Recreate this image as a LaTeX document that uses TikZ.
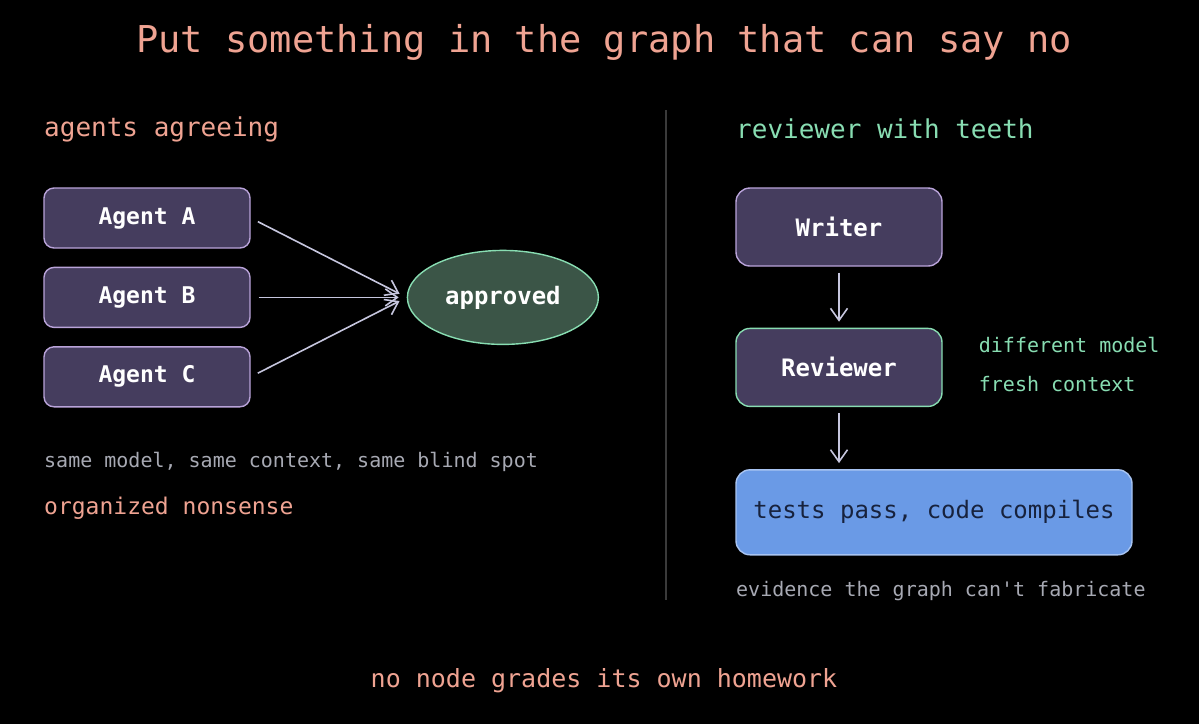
\documentclass[tikz,border=0pt]{standalone}
\usepackage{fontspec}
\setmonofont{DejaVu Sans Mono}
\usepackage{tikz}
\usetikzlibrary{arrows.meta,positioning,shapes.geometric}
\definecolor{salmon}{HTML}{EFA392}
\definecolor{mint}{HTML}{88DDB2}
\definecolor{boxfill}{HTML}{453D5E}
\definecolor{boxline}{HTML}{B9A3D9}
\definecolor{okfill}{HTML}{3B5547}
\definecolor{testfill}{HTML}{6A9AE6}
\definecolor{testline}{HTML}{A8C4F2}
\definecolor{testtext}{HTML}{17223D}
\definecolor{mute}{HTML}{A7A9B3}
\definecolor{wire}{HTML}{C6C6DE}
\definecolor{divider}{HTML}{3A3A3A}

\begin{document}
\begin{tikzpicture}[x=1pt,y=-1pt,node distance=18pt and 4pt,every node/.style={font=\ttfamily,inner sep=0pt},agent/.style={draw=boxline,line width=1.4pt,fill=boxfill,rounded corners=10pt,minimum width=206pt,minimum height=60pt,text=white,font=\ttfamily\bfseries\fontsize{23}{27}\selectfont},stage/.style={agent,rounded corners=14pt,minimum height=78pt,font=\ttfamily\bfseries\fontsize{24}{28}\selectfont},verdict/.style={ellipse,draw=mint,line width=1.4pt,fill=okfill,minimum width=191pt,minimum height=94pt,text=white,font=\ttfamily\bfseries\fontsize{24}{28}\selectfont},proof/.style={draw=testline,line width=1.4pt,fill=testfill,rounded corners=14pt,minimum width=396pt,minimum height=85pt,text=testtext,font=\ttfamily\fontsize{24}{28}\selectfont},heading/.style={anchor=west,font=\ttfamily\fontsize{26}{30}\selectfont},note/.style={anchor=west,text=mute,font=\ttfamily\fontsize{20}{24}\selectfont},arrow/.style={-{Straight Barb[length=12pt,width=17pt]},line width=1.6pt,wire}]
\useasboundingbox[fill=black] (0,0) rectangle (1199,724);
\node[text=salmon,font=\ttfamily\fontsize{37}{42}\selectfont] (title) at (604,42) {Put something in the graph that can say no};
\draw[divider,line width=1.3pt] (666,110) -- (666,600);
% left side
\node[heading,text=salmon] (lhead) at (44,129) {agents agreeing};
\node[agent] (a) at (147,218) {Agent A};
\node[agent,below=of a] (b) {Agent B};
\node[agent,below=of b] (c) {Agent C};
\node[verdict,right=156pt of b] (ok) {approved};
\draw[arrow,shorten <=8pt,shorten >=8pt] (a.east) -- (ok.west);
\draw[arrow,shorten <=8pt,shorten >=8pt] (b.east) -- (ok.west);
\draw[arrow,shorten <=8pt,shorten >=8pt] (c.east) -- (ok.west);
\node[note] (same) at (44,462) {same model, same context, same blind spot};
\node[heading,text=salmon,font=\ttfamily\fontsize{23}{27}\selectfont] (nonsense) at (44,508) {organized nonsense};
% right side
\node[heading,text=mint] (rhead) at (736,129) {reviewer with teeth};
\node[stage] (w) at (839,227) {Writer};
\node[stage,draw=mint,below=61pt of w] (r) {Reviewer};
\node[note,text=mint,right=36pt of r.north east,anchor=west,yshift=-17pt] (diff) {different model};
\node[note,text=mint,below=39pt of diff.west,anchor=west] (fresh) {fresh context};
\node[proof,below=62pt of r.south west,anchor=north west] (tests) {tests pass, code compiles};
\draw[arrow,shorten <=6pt,shorten >=6pt] (w.south) -- (r.north);
\draw[arrow,shorten <=6pt,shorten >=6pt] (r.south) -- (r.south |- tests.north);
\node[note] (evidence) at (736,591) {evidence the graph can't fabricate};
\node[text=salmon,font=\ttfamily\fontsize{25}{29}\selectfont] (moral) at (604,681) {no node grades its own homework};
\end{tikzpicture}
\end{document}
